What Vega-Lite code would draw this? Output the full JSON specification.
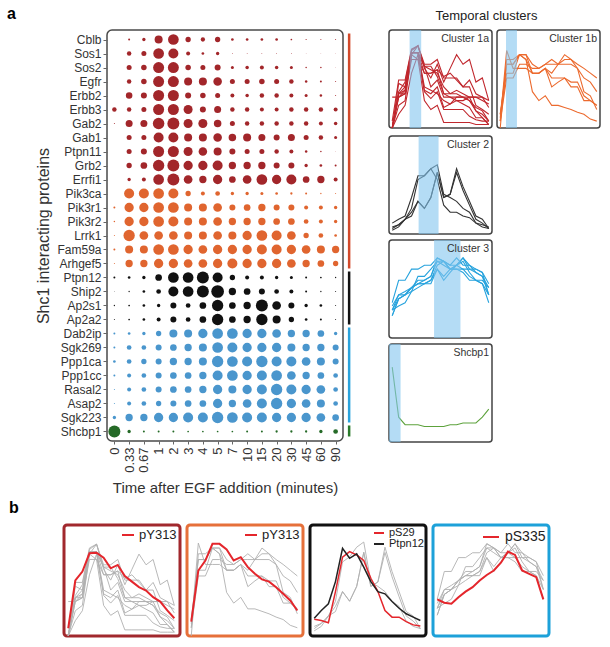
{
  "$schema": "https://vega.github.io/schema/vega-lite/v6.json",
  "background": "white",
  "padding": {"left": 6, "top": 5, "right": 5, "bottom": 5},
  "config": {
    "font": "Liberation Sans",
    "view": {"stroke": null},
    "axis": {"grid": false, "domain": false, "labelColor": "#333", "tickColor": "#666", "titleColor": "#333", "titleFontWeight": "normal"},
    "title": {"color": "#222", "fontWeight": "normal"}
  },
  "datasets": {
    "bub": [
      {"p": "Cblb", "c": "1a", "t": ["0","0.33","0.67","1","2","3","4","5","7","10","15","20","30","45","60","90"], "i": [0,1,2,3,4,5,6,7,8,9,10,11,12,13,14,15], "v": [0, 2, 3.3, 8, 10.7, 5.3, 4.3, 5.3, 2.7, 2.7, 2.7, 2.7, 1.7, 1.2, 1, 1]},
      {"p": "Sos1", "c": "1a", "t": ["0","0.33","0.67","1","2","3","4","5","7","10","15","20","30","45","60","90"], "i": [0,1,2,3,4,5,6,7,8,9,10,11,12,13,14,15], "v": [0, 4.5, 5, 10.7, 10, 4, 2.7, 3.3, 0.8, 0.8, 0.8, 0.8, 0.8, 0.5, 0.5, 0.5]},
      {"p": "Sos2", "c": "1a", "t": ["0","0.33","0.67","1","2","3","4","5","7","10","15","20","30","45","60","90"], "i": [0,1,2,3,4,5,6,7,8,9,10,11,12,13,14,15], "v": [0, 5, 5.5, 11, 11, 5.5, 5, 6, 3, 3.5, 4, 3.5, 3, 1.5, 1.5, 0.5]},
      {"p": "Egfr", "c": "1a", "t": ["0","0.33","0.67","1","2","3","4","5","7","10","15","20","30","45","60","90"], "i": [0,1,2,3,4,5,6,7,8,9,10,11,12,13,14,15], "v": [0, 4.5, 5.5, 11, 11, 8, 8, 8.5, 5, 5, 5.5, 5, 4.5, 2.5, 2, 1]},
      {"p": "Erbb2", "c": "1a", "t": ["0","0.33","0.67","1","2","3","4","5","7","10","15","20","30","45","60","90"], "i": [0,1,2,3,4,5,6,7,8,9,10,11,12,13,14,15], "v": [0, 6.5, 6, 11, 11, 6, 5.5, 5, 4, 3.5, 4.5, 4.5, 4, 3, 2.5, 1]},
      {"p": "Erbb3", "c": "1a", "t": ["0","0.33","0.67","1","2","3","4","5","7","10","15","20","30","45","60","90"], "i": [0,1,2,3,4,5,6,7,8,9,10,11,12,13,14,15], "v": [4.5, 4.5, 5, 11, 11, 9, 6, 7, 4.5, 4.5, 4, 4, 4.5, 4.5, 4.5, 4]},
      {"p": "Gab2", "c": "1a", "t": ["0","0.33","0.67","1","2","3","4","5","7","10","15","20","30","45","60","90"], "i": [0,1,2,3,4,5,6,7,8,9,10,11,12,13,14,15], "v": [1, 7, 7, 11.5, 12, 9, 9, 7.5, 5, 4.5, 4.5, 4.5, 4.5, 4.5, 4, 3.5]},
      {"p": "Gab1", "c": "1a", "t": ["0","0.33","0.67","1","2","3","4","5","7","10","15","20","30","45","60","90"], "i": [0,1,2,3,4,5,6,7,8,9,10,11,12,13,14,15], "v": [0, 5, 5, 10, 10, 8, 8, 8.5, 7.5, 8, 7, 6, 7, 5, 4.5, 3]},
      {"p": "Ptpn11", "c": "1a", "t": ["0","0.33","0.67","1","2","3","4","5","7","10","15","20","30","45","60","90"], "i": [0,1,2,3,4,5,6,7,8,9,10,11,12,13,14,15], "v": [0, 5, 6, 11, 11, 9, 8.5, 8, 6, 5, 5, 4.5, 4, 2.5, 1.5, 0.5]},
      {"p": "Grb2", "c": "1a", "t": ["0","0.33","0.67","1","2","3","4","5","7","10","15","20","30","45","60","90"], "i": [0,1,2,3,4,5,6,7,8,9,10,11,12,13,14,15], "v": [0, 5.3, 6.7, 11.3, 12, 9.3, 9.3, 10, 7.3, 7.3, 7.3, 6, 6, 3.3, 2.7, 2]},
      {"p": "Errfi1", "c": "1a", "t": ["0","0.33","0.67","1","2","3","4","5","7","10","15","20","30","45","60","90"], "i": [0,1,2,3,4,5,6,7,8,9,10,11,12,13,14,15], "v": [0, 3.3, 4, 10.7, 12, 8.7, 7.3, 9.3, 6.7, 8.7, 10.7, 9.3, 10, 6.7, 7.3, 4]},
      {"p": "Pik3ca", "c": "1b", "t": ["0","0.33","0.67","1","2","3","4","5","7","10","15","20","30","45","60","90"], "i": [0,1,2,3,4,5,6,7,8,9,10,11,12,13,14,15], "v": [0, 10, 10, 10.7, 10, 5.3, 4, 4.7, 3.3, 3.3, 3, 2.7, 2.3, 2, 1.3, 1]},
      {"p": "Pik3r1", "c": "1b", "t": ["0","0.33","0.67","1","2","3","4","5","7","10","15","20","30","45","60","90"], "i": [0,1,2,3,4,5,6,7,8,9,10,11,12,13,14,15], "v": [2, 9.3, 9.3, 10.7, 10.7, 8, 8, 8.7, 6, 6.7, 7.3, 6, 6, 4, 4, 3.3]},
      {"p": "Pik3r2", "c": "1b", "t": ["0","0.33","0.67","1","2","3","4","5","7","10","15","20","30","45","60","90"], "i": [0,1,2,3,4,5,6,7,8,9,10,11,12,13,14,15], "v": [1.5, 9.3, 9.3, 10.7, 10, 8, 8, 8.7, 7.3, 7.3, 7.3, 6.7, 6.7, 4.7, 4, 3.3]},
      {"p": "Lrrk1", "c": "1b", "t": ["0","0.33","0.67","1","2","3","4","5","7","10","15","20","30","45","60","90"], "i": [0,1,2,3,4,5,6,7,8,9,10,11,12,13,14,15], "v": [1, 11.3, 8.7, 8.7, 8.7, 8, 8, 8.7, 8, 9.3, 10.7, 10, 8.7, 5.3, 4.7, 2.7]},
      {"p": "Fam59a", "c": "1b", "t": ["0","0.33","0.67","1","2","3","4","5","7","10","15","20","30","45","60","90"], "i": [0,1,2,3,4,5,6,7,8,9,10,11,12,13,14,15], "v": [2, 8, 8, 10.7, 10.7, 9.3, 8.7, 9.3, 9.3, 9.3, 10, 10, 9.3, 8.7, 8, 7.3]},
      {"p": "Arhgef5", "c": "1b", "t": ["0","0.33","0.67","1","2","3","4","5","7","10","15","20","30","45","60","90"], "i": [0,1,2,3,4,5,6,7,8,9,10,11,12,13,14,15], "v": [1, 7.3, 7.3, 9.3, 9.3, 8.7, 8.7, 9.3, 10, 9.3, 9.3, 9.3, 8.7, 7.3, 6.7, 5.3]},
      {"p": "Ptpn12", "c": "2", "t": ["0","0.33","0.67","1","2","3","4","5","7","10","15","20","30","45","60","90"], "i": [0,1,2,3,4,5,6,7,8,9,10,11,12,13,14,15], "v": [2, 2.7, 3.3, 6.7, 10.7, 10.7, 12, 10, 5.3, 4, 4, 3.3, 3, 2, 1.7, 1.3]},
      {"p": "Ship2", "c": "2", "t": ["0","0.33","0.67","1","2","3","4","5","7","10","15","20","30","45","60","90"], "i": [0,1,2,3,4,5,6,7,8,9,10,11,12,13,14,15], "v": [0.7, 1.3, 2.7, 4.7, 10, 10.7, 12, 12.7, 7.3, 6.7, 6, 4.7, 4, 2, 1.3, 1]},
      {"p": "Ap2s1", "c": "2", "t": ["0","0.33","0.67","1","2","3","4","5","7","10","15","20","30","45","60","90"], "i": [0,1,2,3,4,5,6,7,8,9,10,11,12,13,14,15], "v": [1.3, 1.7, 2.7, 3.3, 6, 4.7, 6.7, 11.3, 6.7, 7.3, 12, 8.7, 6, 3.3, 2.7, 1]},
      {"p": "Ap2a2", "c": "2", "t": ["0","0.33","0.67","1","2","3","4","5","7","10","15","20","30","45","60","90"], "i": [0,1,2,3,4,5,6,7,8,9,10,11,12,13,14,15], "v": [1, 1.7, 2.7, 4, 6, 4.7, 6.7, 11.3, 6.7, 7.3, 11.3, 8, 5.3, 2.7, 2, 1]},
      {"p": "Dab2ip", "c": "3", "t": ["0","0.33","0.67","1","2","3","4","5","7","10","15","20","30","45","60","90"], "i": [0,1,2,3,4,5,6,7,8,9,10,11,12,13,14,15], "v": [2, 2.7, 3.3, 5.3, 8, 8, 9.3, 10.7, 10.7, 9.3, 9.3, 8.7, 7.3, 7.3, 6.7, 3.3]},
      {"p": "Sgk269", "c": "3", "t": ["0","0.33","0.67","1","2","3","4","5","7","10","15","20","30","45","60","90"], "i": [0,1,2,3,4,5,6,7,8,9,10,11,12,13,14,15], "v": [2, 4.7, 4.7, 6, 6.7, 7.3, 8, 10.7, 10, 9.3, 9.3, 9.3, 8, 7.3, 7.3, 6]},
      {"p": "Ppp1ca", "c": "3", "t": ["0","0.33","0.67","1","2","3","4","5","7","10","15","20","30","45","60","90"], "i": [0,1,2,3,4,5,6,7,8,9,10,11,12,13,14,15], "v": [2.7, 4.7, 5.3, 6, 7.3, 7.3, 8, 11.3, 10.7, 10, 11.3, 10, 10, 8.7, 8, 6]},
      {"p": "Ppp1cc", "c": "3", "t": ["0","0.33","0.67","1","2","3","4","5","7","10","15","20","30","45","60","90"], "i": [0,1,2,3,4,5,6,7,8,9,10,11,12,13,14,15], "v": [2, 4, 4.7, 6, 6.7, 6.7, 7.3, 10, 10.7, 9.3, 10, 10.7, 8.7, 7.3, 6.7, 4.7]},
      {"p": "Rasal2", "c": "3", "t": ["0","0.33","0.67","1","2","3","4","5","7","10","15","20","30","45","60","90"], "i": [0,1,2,3,4,5,6,7,8,9,10,11,12,13,14,15], "v": [1, 4, 4.7, 6, 6.7, 6.7, 7.3, 9.3, 8, 9.3, 10, 11.3, 10, 9.3, 8.7, 4.7]},
      {"p": "Asap2", "c": "3", "t": ["0","0.33","0.67","1","2","3","4","5","7","10","15","20","30","45","60","90"], "i": [0,1,2,3,4,5,6,7,8,9,10,11,12,13,14,15], "v": [1, 4, 4.7, 5.3, 6, 6.7, 6.7, 9.3, 7.3, 8.7, 10, 11.3, 9.3, 8.7, 8, 4.7]},
      {"p": "Sgk223", "c": "3", "t": ["0","0.33","0.67","1","2","3","4","5","7","10","15","20","30","45","60","90"], "i": [0,1,2,3,4,5,6,7,8,9,10,11,12,13,14,15], "v": [3.3, 7.3, 7.3, 9.3, 9.3, 10, 10, 11.3, 10.7, 10, 10, 9.3, 9.3, 9.3, 8.7, 6.7]},
      {"p": "Shcbp1", "c": "S", "t": ["0","0.33","0.67","1","2","3","4","5","7","10","15","20","30","45","60","90"], "i": [0,1,2,3,4,5,6,7,8,9,10,11,12,13,14,15], "v": [12, 3.3, 2, 2, 2, 1.7, 1.7, 1.7, 1.7, 2, 2, 2.3, 2.3, 2.3, 3.3, 4.7]}
    ],
    "red": [
      {"g": "b1", "s": "pY313", "i": [0,1,2,3,4,5,6,7,8,9,10,11,12,13,14,15], "v": [0.07, 0.50, 0.58, 0.745, 0.75, 0.705, 0.61, 0.64, 0.54, 0.49, 0.44, 0.41, 0.35, 0.31, 0.23, 0.16]},
      {"g": "b2", "s": "pY313", "i": [0,1,2,3,4,5,6,7,8,9,10,11,12,13,14,15], "v": [0.13, 0.59, 0.68, 0.83, 0.83, 0.78, 0.68, 0.71, 0.62, 0.56, 0.51, 0.49, 0.44, 0.38, 0.32, 0.23]},
      {"g": "b3", "s": "pS29", "i": [0,1,2,3,4,5,6,7,8,9,10,11,12,13,14,15], "v": [0.15, 0.14, 0.12, 0.40, 0.71, 0.76, 0.73, 0.68, 0.52, 0.40, 0.23, 0.17, 0.17, 0.13, 0.10, 0.09]},
      {"g": "b3", "s": "Ptpn12", "i": [0,1,2,3,4,5,6,7,8,9,10,11,12,13,14,15], "v": [0.16, 0.23, 0.29, 0.49, 0.79, 0.70, 0.74, 0.62, 0.49, 0.40, 0.38, 0.31, 0.25, 0.20, 0.17, 0.14]},
      {"g": "b4", "s": "pS335", "i": [0,1,2,3,4,5,6,7,8,9,10,11,12,13,14,15], "v": [0.33, 0.30, 0.29, 0.35, 0.40, 0.44, 0.50, 0.55, 0.59, 0.66, 0.76, 0.73, 0.59, 0.56, 0.53, 0.33]}
    ]
  },
  "resolve": {"scale": {"color": "independent", "size": "independent"}},
  "spacing": 1,
  "vconcat": [
    {
      "resolve": {"scale": {"color": "independent", "size": "independent"}},
      "spacing": 36,
      "hconcat": [
        {
          "bounds": "flush",
          "spacing": 4,
          "resolve": {"scale": {"color": "independent", "size": "independent"}},
          "hconcat": [
            {
              "width": 39,
              "height": 411,
              "data": {"values": [{}]},
              "mark": {"type": "point", "opacity": 0},
              "encoding": {}
            },
            {
              "width": 236,
              "height": 411,
              "view": {"stroke": "#4a4a4a", "strokeWidth": 1.5, "cornerRadius": 5},
              "title": {"text": "a", "anchor": "start", "frame": "group", "dx": -100, "offset": -5.3, "baseline": "alphabetic", "fontSize": 16, "fontWeight": "bold", "color": "#000"},
              "resolve": {"scale": {"x": "independent", "color": "independent"}},
              "layer": [
                {
                  "data": {"name": "bub"},
                  "transform": [{"flatten": ["v", "t", "i"]}],
                  "mark": {"type": "circle", "opacity": 1},
                  "encoding": {
                    "x": {"field": "t", "type": "ordinal", "sort": ["0","0.33","0.67","1","2","3","4","5","7","10","15","20","30","45","60","90"], "scale": {"type": "point", "padding": 0.5, "domain": ["0","0.33","0.67","1","2","3","4","5","7","10","15","20","30","45","60","90"]}, "axis": {"title": "Time after EGF addition (minutes)", "labelAngle": -90, "labelFontSize": 13, "labelPadding": 3, "tickSize": 3, "titleFontSize": 15, "titlePadding": 8}},
                    "y": {"field": "p", "type": "nominal", "scale": {"type": "point", "padding": 0.68, "domain": ["Cblb","Sos1","Sos2","Egfr","Erbb2","Erbb3","Gab2","Gab1","Ptpn11","Grb2","Errfi1","Pik3ca","Pik3r1","Pik3r2","Lrrk1","Fam59a","Arhgef5","Ptpn12","Ship2","Ap2s1","Ap2a2","Dab2ip","Sgk269","Ppp1ca","Ppp1cc","Rasal2","Asap2","Sgk223","Shcbp1"]}, "axis": {"title": "Shc1 interacting proteins", "labelFontSize": 12, "labelPadding": 2, "tickSize": 4, "titleFontSize": 16, "titlePadding": 5}},
                    "size": {"field": "v", "type": "quantitative", "scale": {"type": "pow", "exponent": 2, "domain": [0, 12], "range": [0, 144]}, "legend": null},
                    "color": {"field": "c", "type": "nominal", "scale": {"domain": ["1a","1b","2","3","S"], "range": ["#A2262A","#E0652F","#111111","#4A96CD","#256A27"]}, "legend": null}
                  }
                },
                {
                  "data": {"values": [{"from": "Cblb", "to": "Arhgef5", "k": "1"}, {"from": "Ptpn12", "to": "Ap2a2", "k": "2"}, {"from": "Dab2ip", "to": "Sgk223", "k": "3"}, {"from": "Shcbp1", "to": "Shcbp1", "k": "S"}]},
                  "mark": {"type": "rule", "strokeWidth": 2.5, "yOffset": -6, "y2Offset": 5},
                  "encoding": {
                    "x": {"datum": 1.026, "type": "quantitative", "scale": {"domain": [0, 1], "nice": false, "zero": false}, "axis": null},
                    "y": {"field": "from", "type": "nominal", "scale": {"type": "point", "padding": 0.68, "domain": ["Cblb","Sos1","Sos2","Egfr","Erbb2","Erbb3","Gab2","Gab1","Ptpn11","Grb2","Errfi1","Pik3ca","Pik3r1","Pik3r2","Lrrk1","Fam59a","Arhgef5","Ptpn12","Ship2","Ap2s1","Ap2a2","Dab2ip","Sgk269","Ppp1ca","Ppp1cc","Rasal2","Asap2","Sgk223","Shcbp1"]}},
                    "y2": {"field": "to"},
                    "color": {"field": "k", "type": "nominal", "scale": {"domain": ["1","2","3","S"], "range": ["#D2492A","#111111","#2AA3DC","#2A7A2A"]}, "legend": null}
                  }
                }
              ]
            }
          ]
        },
        {
          "title": {"text": "Temporal clusters", "fontSize": 13, "anchor": "middle", "dx": -8, "offset": -4, "baseline": "alphabetic", "color": "#222"},
          "spacing": 4,
          "vconcat": [
            {
              "spacing": 3,
              "hconcat": [
                {
                  "width": 103, "height": 98,
                  "view": {"stroke": "#444", "strokeWidth": 1.5, "cornerRadius": 3},
                  "title": {"text": "Cluster 1a", "anchor": "end", "frame": "group", "offset": -22.3, "baseline": "alphabetic", "dx": -3, "fontSize": 10.5, "color": "#333"},
                  "layer": [
                    {"data": {"name": "bub"}, "transform": [{"flatten": ["v", "t", "i"]}, {"filter": "datum.c == '1a'"}], "mark": {"type": "line", "color": "#C0272D", "strokeWidth": 1.1}, "encoding": {"x": {"field": "i", "type": "quantitative", "scale": {"domain": [-0.5, 15.5], "nice": false, "zero": false}, "axis": null}, "y": {"field": "v", "type": "quantitative", "scale": {"domain": [0, 14.3], "nice": false}, "axis": null}, "detail": {"field": "p"}}},
                    {"data": {"values": [{"a": 2.7, "b": 4.5}]}, "mark": {"type": "rect", "color": "#82C5EE", "opacity": 0.6}, "encoding": {"x": {"field": "a", "type": "quantitative", "scale": {"domain": [-0.5, 15.5], "nice": false, "zero": false}}, "x2": {"field": "b"}}}
                  ]
                },
                {
                  "width": 103, "height": 98,
                  "view": {"stroke": "#444", "strokeWidth": 1.5, "cornerRadius": 3},
                  "title": {"text": "Cluster 1b", "anchor": "end", "frame": "group", "offset": -22.3, "baseline": "alphabetic", "dx": -3, "fontSize": 10.5, "color": "#333"},
                  "layer": [
                    {"data": {"name": "bub"}, "transform": [{"flatten": ["v", "t", "i"]}, {"filter": "datum.c == '1b'"}], "mark": {"type": "line", "color": "#EC6A2E", "strokeWidth": 1.1}, "encoding": {"x": {"field": "i", "type": "quantitative", "scale": {"domain": [-0.5, 15.5], "nice": false, "zero": false}, "axis": null}, "y": {"field": "v", "type": "quantitative", "scale": {"domain": [0, 14.3], "nice": false}, "axis": null}, "detail": {"field": "p"}}},
                    {"data": {"values": [{"a": 0.9, "b": 2.6}]}, "mark": {"type": "rect", "color": "#82C5EE", "opacity": 0.6}, "encoding": {"x": {"field": "a", "type": "quantitative", "scale": {"domain": [-0.5, 15.5], "nice": false, "zero": false}}, "x2": {"field": "b"}}}
                  ]
                }
              ]
            },
            {
              "width": 103, "height": 98,
              "view": {"stroke": "#444", "strokeWidth": 1.5, "cornerRadius": 3},
              "title": {"text": "Cluster 2", "anchor": "end", "frame": "group", "offset": -22.3, "baseline": "alphabetic", "dx": -3, "fontSize": 10.5, "color": "#333"},
              "layer": [
                {"data": {"name": "bub"}, "transform": [{"flatten": ["v", "t", "i"]}, {"filter": "datum.c == '2'"}], "mark": {"type": "line", "color": "#333333", "strokeWidth": 1.1}, "encoding": {"x": {"field": "i", "type": "quantitative", "scale": {"domain": [-0.5, 15.5], "nice": false, "zero": false}, "axis": null}, "y": {"field": "v", "type": "quantitative", "scale": {"domain": [0, 18], "nice": false}, "axis": null}, "detail": {"field": "p"}}},
                {"data": {"values": [{"a": 4.1, "b": 7.2}]}, "mark": {"type": "rect", "color": "#82C5EE", "opacity": 0.6}, "encoding": {"x": {"field": "a", "type": "quantitative", "scale": {"domain": [-0.5, 15.5], "nice": false, "zero": false}}, "x2": {"field": "b"}}}
              ]
            },
            {
              "width": 103, "height": 98,
              "view": {"stroke": "#444", "strokeWidth": 1.5, "cornerRadius": 3},
              "title": {"text": "Cluster 3", "anchor": "end", "frame": "group", "offset": -22.3, "baseline": "alphabetic", "dx": -3, "fontSize": 10.5, "color": "#333"},
              "layer": [
                {"data": {"name": "bub"}, "transform": [{"flatten": ["v", "t", "i"]}, {"filter": "datum.c == '3'"}], "mark": {"type": "line", "color": "#27A3DD", "strokeWidth": 1.1}, "encoding": {"x": {"field": "i", "type": "quantitative", "scale": {"domain": [-0.5, 15.5], "nice": false, "zero": false}, "axis": null}, "y": {"field": "v", "type": "quantitative", "scale": {"domain": [-3, 14.5], "nice": false}, "axis": null}, "detail": {"field": "p"}}},
                {"data": {"values": [{"a": 6.5, "b": 10.6}]}, "mark": {"type": "rect", "color": "#82C5EE", "opacity": 0.6}, "encoding": {"x": {"field": "a", "type": "quantitative", "scale": {"domain": [-0.5, 15.5], "nice": false, "zero": false}}, "x2": {"field": "b"}}}
              ]
            },
            {
              "width": 103, "height": 98,
              "view": {"stroke": "#444", "strokeWidth": 1.5, "cornerRadius": 3},
              "title": {"text": "Shcbp1", "anchor": "end", "frame": "group", "offset": -22.3, "baseline": "alphabetic", "dx": -3, "fontSize": 10.5, "color": "#333"},
              "layer": [
                {"data": {"name": "bub"}, "transform": [{"flatten": ["v", "t", "i"]}, {"filter": "datum.c == 'S'"}], "mark": {"type": "line", "color": "#5DA23C", "strokeWidth": 1.1}, "encoding": {"x": {"field": "i", "type": "quantitative", "scale": {"domain": [-0.5, 15.5], "nice": false, "zero": false}, "axis": null}, "y": {"field": "v", "type": "quantitative", "scale": {"domain": [-1, 16], "nice": false}, "axis": null}, "detail": {"field": "p"}}},
                {"data": {"values": [{"a": -0.5, "b": 1.3}]}, "mark": {"type": "rect", "color": "#82C5EE", "opacity": 0.6}, "encoding": {"x": {"field": "a", "type": "quantitative", "scale": {"domain": [-0.5, 15.5], "nice": false, "zero": false}}, "x2": {"field": "b"}}}
              ]
            }
          ]
        }
      ]
    },
    {
      "resolve": {"scale": {"color": "independent"}},
      "spacing": 3,
      "hconcat": [
        {
          "width": 116, "height": 111,
          "view": {"stroke": "#A1282D", "strokeWidth": 3, "cornerRadius": 3},
          "title": {"text": "b", "anchor": "start", "frame": "group", "dx": -55, "offset": -4, "baseline": "alphabetic", "fontSize": 16, "fontWeight": "bold", "color": "#000"},
          "resolve": {"scale": {"y": "independent"}},
          "layer": [
            {"data": {"name": "bub"}, "transform": [{"flatten": ["v", "t", "i"]}, {"filter": "datum.c == '1a'"}], "mark": {"type": "line", "color": "#b0b0b0", "strokeWidth": 0.9}, "encoding": {"x": {"field": "i", "type": "quantitative", "scale": {"domain": [-0.6, 15.8], "nice": false, "zero": false}, "axis": null}, "y": {"field": "v", "type": "quantitative", "scale": {"domain": [0, 14.5], "nice": false}, "axis": null}, "detail": {"field": "p"}}},
            {"data": {"name": "red"}, "transform": [{"filter": "datum.g == 'b1'"}, {"flatten": ["v", "i"]}], "mark": {"type": "line", "strokeWidth": 2}, "encoding": {"x": {"field": "i", "type": "quantitative", "scale": {"domain": [-0.6, 15.8], "nice": false, "zero": false}, "axis": null}, "y": {"field": "v", "type": "quantitative", "scale": {"domain": [0, 1], "nice": false}, "axis": null}, "color": {"field": "s", "type": "nominal", "scale": {"domain": ["pY313"], "range": ["#E4262C"]}, "legend": {"orient": "top-right", "title": null, "symbolType": "stroke", "symbolSize": 144, "symbolStrokeWidth": 2, "labelFontSize": 13, "labelColor": "#222", "offset": 3, "padding": 0, "labelOffset": 4}}}}
          ]
        },
        {
          "width": 116, "height": 111,
          "view": {"stroke": "#E6703A", "strokeWidth": 3, "cornerRadius": 3},
          "resolve": {"scale": {"y": "independent"}},
          "layer": [
            {"data": {"name": "bub"}, "transform": [{"flatten": ["v", "t", "i"]}, {"filter": "datum.c == '1b'"}], "mark": {"type": "line", "color": "#b0b0b0", "strokeWidth": 0.9}, "encoding": {"x": {"field": "i", "type": "quantitative", "scale": {"domain": [-0.6, 15.8], "nice": false, "zero": false}, "axis": null}, "y": {"field": "v", "type": "quantitative", "scale": {"domain": [0, 13.5], "nice": false}, "axis": null}, "detail": {"field": "p"}}},
            {"data": {"name": "red"}, "transform": [{"filter": "datum.g == 'b2'"}, {"flatten": ["v", "i"]}], "mark": {"type": "line", "strokeWidth": 2}, "encoding": {"x": {"field": "i", "type": "quantitative", "scale": {"domain": [-0.6, 15.8], "nice": false, "zero": false}, "axis": null}, "y": {"field": "v", "type": "quantitative", "scale": {"domain": [0, 1], "nice": false}, "axis": null}, "color": {"field": "s", "type": "nominal", "scale": {"domain": ["pY313"], "range": ["#E4262C"]}, "legend": {"orient": "top-right", "title": null, "symbolType": "stroke", "symbolSize": 144, "symbolStrokeWidth": 2, "labelFontSize": 13, "labelColor": "#222", "offset": 3, "padding": 0, "labelOffset": 4}}}}
          ]
        },
        {
          "width": 116, "height": 111,
          "view": {"stroke": "#111111", "strokeWidth": 3, "cornerRadius": 3},
          "resolve": {"scale": {"y": "independent"}},
          "layer": [
            {"data": {"name": "bub"}, "transform": [{"flatten": ["v", "t", "i"]}, {"filter": "datum.c == '2' && datum.p != 'Ptpn12'"}], "mark": {"type": "line", "color": "#b0b0b0", "strokeWidth": 0.9}, "encoding": {"x": {"field": "i", "type": "quantitative", "scale": {"domain": [-0.6, 15.8], "nice": false, "zero": false}, "axis": null}, "y": {"field": "v", "type": "quantitative", "scale": {"domain": [0, 15], "nice": false}, "axis": null}, "detail": {"field": "p"}}},
            {"data": {"name": "red"}, "transform": [{"filter": "datum.g == 'b3'"}, {"flatten": ["v", "i"]}], "mark": {"type": "line", "strokeWidth": 1.5}, "encoding": {"x": {"field": "i", "type": "quantitative", "scale": {"domain": [-0.6, 15.8], "nice": false, "zero": false}, "axis": null}, "y": {"field": "v", "type": "quantitative", "scale": {"domain": [0, 1], "nice": false}, "axis": null}, "color": {"field": "s", "type": "nominal", "scale": {"domain": ["pS29", "Ptpn12"], "range": ["#E4262C", "#222222"]}, "legend": {"orient": "top-right", "title": null, "symbolType": "stroke", "symbolSize": 100, "symbolStrokeWidth": 2, "labelFontSize": 11, "labelColor": "#222", "offset": 2, "padding": 0, "labelOffset": 4, "rowPadding": 0}}}}
          ]
        },
        {
          "width": 116, "height": 111,
          "view": {"stroke": "#1DA1D9", "strokeWidth": 3, "cornerRadius": 3},
          "resolve": {"scale": {"y": "independent"}},
          "layer": [
            {"data": {"name": "bub"}, "transform": [{"flatten": ["v", "t", "i"]}, {"filter": "datum.c == '3'"}], "mark": {"type": "line", "color": "#b0b0b0", "strokeWidth": 0.9}, "encoding": {"x": {"field": "i", "type": "quantitative", "scale": {"domain": [-0.6, 15.8], "nice": false, "zero": false}, "axis": null}, "y": {"field": "v", "type": "quantitative", "scale": {"domain": [-2, 14], "nice": false}, "axis": null}, "detail": {"field": "p"}}},
            {"data": {"name": "red"}, "transform": [{"filter": "datum.g == 'b4'"}, {"flatten": ["v", "i"]}], "mark": {"type": "line", "strokeWidth": 2}, "encoding": {"x": {"field": "i", "type": "quantitative", "scale": {"domain": [-0.6, 15.8], "nice": false, "zero": false}, "axis": null}, "y": {"field": "v", "type": "quantitative", "scale": {"domain": [0, 1], "nice": false}, "axis": null}, "color": {"field": "s", "type": "nominal", "scale": {"domain": ["pS335"], "range": ["#E4262C"]}, "legend": {"orient": "top-right", "title": null, "symbolType": "stroke", "symbolSize": 256, "symbolStrokeWidth": 2, "labelFontSize": 14, "labelColor": "#222", "offset": 3, "padding": 0, "labelOffset": 5}}}}
          ]
        }
      ]
    }
  ]
}
